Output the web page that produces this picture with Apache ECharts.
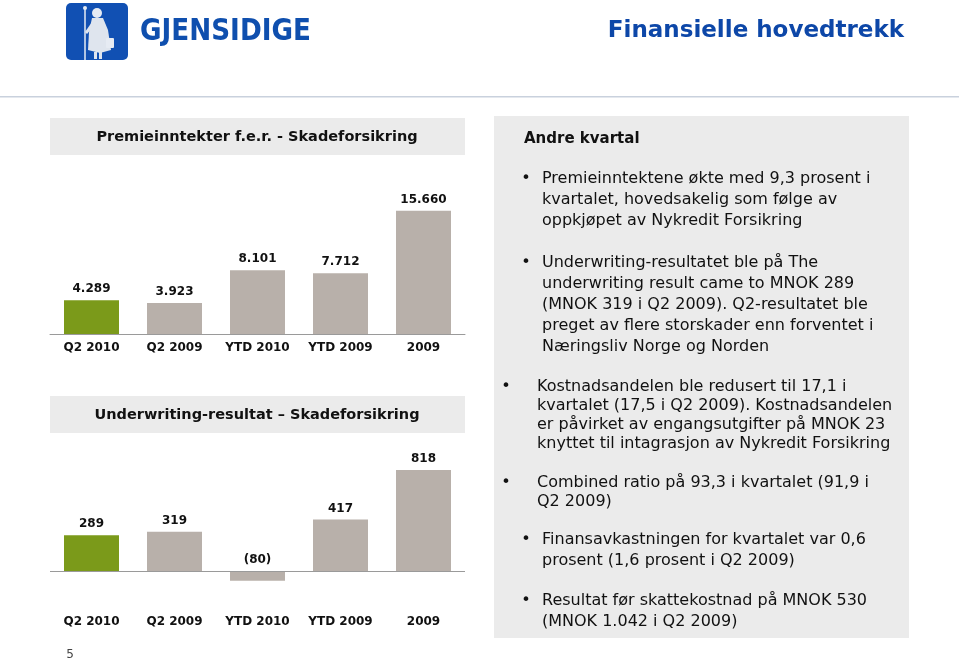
<!DOCTYPE html>
<html>
<head>
<meta charset="utf-8">
<script src="https://cdn.jsdelivr.net/npm/echarts@6/dist/echarts.min.js"></script>
<style>html,body{margin:0;padding:0;background:#fff;}#main{width:959px;height:663px;}</style>
</head>
<body>
<div id="main"></div>
<script>
var categories = ['Q2 2010', 'Q2 2009', 'YTD 2010', 'YTD 2009', '2009'];
var premieValues = [4289, 3923, 8101, 7712, 15660];
var uwValues = [289, 319, -80, 417, 818];
var highlightIndex = 0;

var GREEN = '#7b9a1a', GRAY = '#b8b0aa', PANEL = '#ebebeb', BLUE = '#0d47a8';
var FONT = 'DejaVu Sans';

function fmt(v) {
  var s = String(Math.abs(v)).replace(/\B(?=(\d{3})+(?!\d))/g, '.');
  return v < 0 ? '(' + s + ')' : s;
}
function barData(arr) {
  return arr.map(function (v, i) {
    return { value: v, itemStyle: { color: i === highlightIndex ? GREEN : GRAY } };
  });
}

var chart = echarts.init(document.getElementById('main'), null, { renderer: 'canvas' });

function txt(x, y, text, style, extra) {
  return Object.assign({ type: 'text', x: x, y: y, silent: true, style: Object.assign({ text: text, fontFamily: FONT, fill: '#111' }, style) }, extra || {});
}

var graphics = [
  // header line
  { type: 'rect', shape: { x: 0, y: 96, width: 959, height: 1.5 }, style: { fill: '#c9d1dd' }, silent: true },
  // logo
  { type: 'rect', shape: { x: 66, y: 3, width: 62, height: 57, r: 5 }, style: { fill: '#1150b3' }, silent: true },
  { type: 'line', shape: { x1: 85, y1: 8, x2: 85, y2: 60 }, style: { stroke: '#e6ebf3', lineWidth: 1.5 }, silent: true },
  { type: 'circle', shape: { cx: 85, cy: 8, r: 2 }, style: { fill: '#e6ebf3' }, silent: true },
  { type: 'circle', shape: { cx: 97, cy: 13, r: 5 }, style: { fill: '#e6ebf3' }, silent: true },
  { type: 'polygon', shape: { points: [[92, 18], [103, 18], [108, 30], [111, 50], [100, 53], [88, 50], [89, 32]] }, style: { fill: '#dfe5ee' }, silent: true },
  { type: 'polygon', shape: { points: [[92, 22], [85, 32], [87, 34], [93, 27]] }, style: { fill: '#dfe5ee' }, silent: true },
  { type: 'rect', shape: { x: 106, y: 38, width: 8, height: 10, r: 1 }, style: { fill: '#e6ebf3' }, silent: true },
  { type: 'rect', shape: { x: 94, y: 52, width: 3, height: 7 }, style: { fill: '#dfe5ee' }, silent: true },
  { type: 'rect', shape: { x: 99, y: 52, width: 3, height: 7 }, style: { fill: '#dfe5ee' }, silent: true },
  txt(140, 32, 'GJENSIDIGE', { fontSize: 30, fontWeight: 'bold', fill: '#0f4fae', verticalAlign: 'middle' }, { scaleX: 0.875, originX: 0, originY: 0 }),
  // title
  txt(904, 31, 'Finansielle hovedtrekk', { fontSize: 23, fontWeight: 'bold', fill: BLUE, align: 'right', verticalAlign: 'middle' }),
  // chart header panels
  { type: 'rect', shape: { x: 50, y: 118, width: 415, height: 37 }, style: { fill: PANEL }, silent: true },
  txt(257, 137, 'Premieinntekter f.e.r. - Skadeforsikring', { fontSize: 14.5, fontWeight: 'bold', align: 'center', verticalAlign: 'middle' }),
  { type: 'rect', shape: { x: 50, y: 396, width: 415, height: 37 }, style: { fill: PANEL }, silent: true },
  txt(257, 415, 'Underwriting-resultat – Skadeforsikring', { fontSize: 14.5, fontWeight: 'bold', align: 'center', verticalAlign: 'middle' }),
  // page number
  txt(70, 655, '5', { fontSize: 12, fill: '#444', align: 'center', verticalAlign: 'middle' }),
  // right panel
  { type: 'rect', shape: { x: 494, y: 116, width: 415, height: 522 }, style: { fill: PANEL }, silent: true },
  txt(524, 139, 'Andre kvartal', { fontSize: 15, fontWeight: 'bold', verticalAlign: 'middle' }),
  txt(526, 179, '•', { fontSize: 16, align: 'center', verticalAlign: 'middle' }),
  txt(542, 179 - 10.5, 'Premieinntektene økte med 9,3 prosent i\nkvartalet, hovedsakelig som følge av\noppkjøpet av Nykredit Forsikring', { fontSize: 16, lineHeight: 21, verticalAlign: 'top' }),
  txt(526, 263, '•', { fontSize: 16, align: 'center', verticalAlign: 'middle' }),
  txt(542, 263 - 10.5, 'Underwriting-resultatet ble på The\nunderwriting result came to MNOK 289\n(MNOK 319 i Q2 2009). Q2-resultatet ble\npreget av flere storskader enn forventet i\nNæringsliv Norge og Norden', { fontSize: 16, lineHeight: 21, verticalAlign: 'top' }),
  txt(506, 387, '•', { fontSize: 16, align: 'center', verticalAlign: 'middle' }),
  txt(537, 387 - 9.5, 'Kostnadsandelen ble redusert til 17,1 i\nkvartalet (17,5 i Q2 2009). Kostnadsandelen\ner påvirket av engangsutgifter på MNOK 23\nknyttet til intagrasjon av Nykredit Forsikring', { fontSize: 16, lineHeight: 19, verticalAlign: 'top' }),
  txt(506, 483, '•', { fontSize: 16, align: 'center', verticalAlign: 'middle' }),
  txt(537, 483 - 9.5, 'Combined ratio på 93,3 i kvartalet (91,9 i\nQ2 2009)', { fontSize: 16, lineHeight: 19, verticalAlign: 'top' }),
  txt(526, 540, '•', { fontSize: 16, align: 'center', verticalAlign: 'middle' }),
  txt(542, 540 - 10.5, 'Finansavkastningen for kvartalet var 0,6\nprosent (1,6 prosent i Q2 2009)', { fontSize: 16, lineHeight: 21, verticalAlign: 'top' }),
  txt(526, 601, '•', { fontSize: 16, align: 'center', verticalAlign: 'middle' }),
  txt(542, 601 - 10.5, 'Resultat før skattekostnad på MNOK 530\n(MNOK 1.042 i Q2 2009)', { fontSize: 16, lineHeight: 21, verticalAlign: 'top' })
];

var labelCommon = { show: true, position: 'top', distance: 5, fontFamily: FONT, fontWeight: 'bold', fontSize: 12, color: '#111', formatter: function (p) { return fmt(p.value); } };
var axisLabelCommon = { fontFamily: FONT, fontWeight: 'bold', fontSize: 12, color: '#111', margin: 8, interval: 0 };

chart.setOption({
  animation: false,
  backgroundColor: '#fff',
  grid: [
    { left: 50, width: 415, top: 208, height: 126 },
    { left: 50, width: 415, top: 460, height: 148 }
  ],
  xAxis: [
    { type: 'category', gridIndex: 0, data: categories, axisLine: { lineStyle: { color: '#9a9a9a', width: 1 } }, axisTick: { show: false }, axisLabel: axisLabelCommon },
    { type: 'category', gridIndex: 1, data: categories, axisLine: { show: false, onZero: false }, axisTick: { show: false }, axisLabel: axisLabelCommon }
  ],
  yAxis: [
    { type: 'value', gridIndex: 0, min: 0, max: 16000, show: false, splitLine: { show: false } },
    { type: 'value', gridIndex: 1, min: -300, max: 900, show: false, splitLine: { show: false } }
  ],
  series: [
    { type: 'bar', xAxisIndex: 0, yAxisIndex: 0, data: barData(premieValues), barWidth: 55, label: labelCommon },
    { type: 'bar', xAxisIndex: 1, yAxisIndex: 1, data: barData(uwValues), barWidth: 55, label: labelCommon,
      markLine: { silent: true, symbol: 'none', label: { show: false }, lineStyle: { color: '#9a9a9a', width: 1, type: 'solid' }, data: [{ yAxis: 0 }] } }
  ],
  graphic: graphics
});
</script>
</body>
</html>
